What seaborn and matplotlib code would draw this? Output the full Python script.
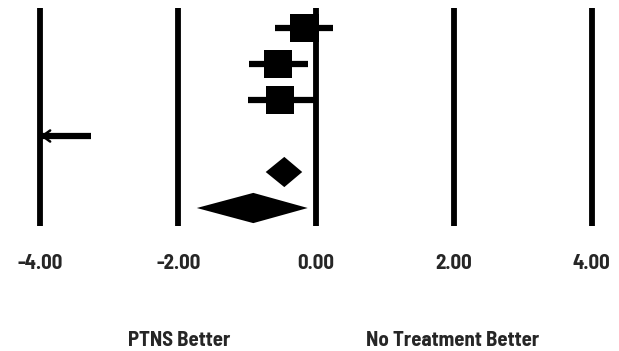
import numpy as np
import pandas as pd
import seaborn as sns
import matplotlib.pyplot as plt
import matplotlib.transforms as mtransforms

# study rows (effect size with CI)
rows = [1, 2, 3]
est = [-0.17, -0.55, -0.52]
lo = [-0.60, -0.97, -0.99]
hi = [0.25, -0.12, -0.02]

# study whose CI runs off the left of the scale
arrow_row = 4
arrow_hi = -3.27

# pooled diamonds
dia_rows = [5, 6]
dia_est = [-0.46, -0.91]
dia_lo = [-0.73, -1.73]
dia_hi = [-0.20, -0.12]

ticks = [-4, -2, 0, 2, 4]
tick_labels = ['-4.00', '-2.00', '0.00', '2.00', '4.00']
left_label = 'PTNS Better'
right_label = 'No Treatment Better'

sns.set_style('white')
plt.rcParams['font.family'] = ['Barlow Semi Condensed', 'Liberation Sans', 'DejaVu Sans']

fig = plt.figure(figsize=(6.19, 3.51), dpi=100)
ax = fig.add_axes([0, 1 - 226 / 351, 1, 218 / 351])

for t in ticks:
    ax.axvline(t, color='black', lw=4.2, solid_capstyle='butt', zorder=1)

df = pd.DataFrame({'row': rows, 'est': est, 'lo': lo, 'hi': hi})
ax.hlines(df['row'], df['lo'], df['hi'], color='black', lw=4.5, zorder=2)
sns.scatterplot(data=df, x='est', y='row', marker='s', s=420, color='black',
                edgecolor='none', ax=ax, zorder=3)

# arrow row
ax.hlines(arrow_row, -4, arrow_hi, color='black', lw=4.5, zorder=2)
ax.annotate('', xy=(-4, arrow_row), xytext=(-3.7, arrow_row),
            arrowprops=dict(arrowstyle='->,head_length=0.55,head_width=0.4',
                            lw=1.8, color='black', shrinkA=0, shrinkB=0), zorder=4)

# diamonds
half_h = 0.42
for r, e, a, b in zip(dia_rows, dia_est, dia_lo, dia_hi):
    ax.fill([a, e, b, e], [r, r - half_h, r, r + half_h], color='black', zorder=3, lw=0)

ax.set_xlim(-316 / 68.9, (619 - 316) / 68.9)
ax.set_ylim(6.5, 0.444)
ax.set_yticks([])
ax.set_xticks(ticks)
ax.set_xticklabels(tick_labels, fontsize=15, fontweight='bold')
ax.tick_params(axis='x', length=0, pad=20.5)
ax.set_xlabel('')
ax.set_ylabel('')
sns.despine(ax=ax, left=True, bottom=True)

trans = mtransforms.blended_transform_factory(ax.transData, fig.transFigure)
ax.text(-1.99, 1 - 340 / 351, left_label, transform=trans, ha='center', va='center',
        fontsize=15, fontweight='bold')
ax.text(1.99, 1 - 340 / 351, right_label, transform=trans, ha='center', va='center',
        fontsize=15, fontweight='bold')

fig.savefig('out.png', dpi=100)
